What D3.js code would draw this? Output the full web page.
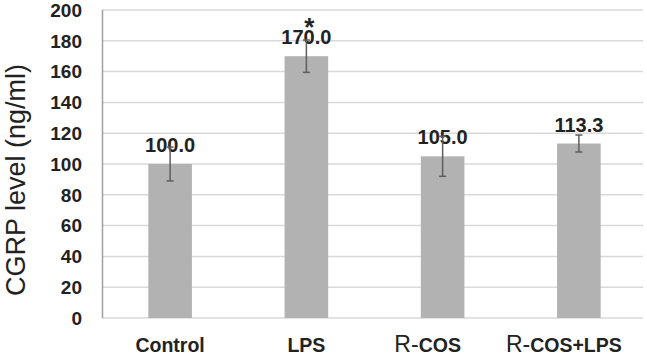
<!DOCTYPE html>
<html>
<head>
<meta charset="utf-8">
<script src="https://cdn.jsdelivr.net/npm/d3@7"></script>
<style>
  body { margin: 0; background: #fff; }
  svg { display: block; font-family: "Liberation Sans", Arial, sans-serif; }
</style>
</head>
<body>
<div id="chart"></div>
<script>
// Chart data
let groups = ["Control", "LPS", "R-COS", "R-COS+LPS"];
let means = [100.0, 170.0, 105.0, 113.3];
let errors = [11, 10.5, 13, 5.5];
let valueLabels = ["100.0", "170.0", "105.0", "113.3"];
let marks = ["", "*", "", ""];
let yTicks = [0, 20, 40, 60, 80, 100, 120, 140, 160, 180, 200];

let w = 647;
let h = 363;
let plotLeft = 102, plotRight = 647, plotTop = 10, plotBottom = 318;

let svg = d3.select("#chart").append("svg")
    .attr("width", w)
    .attr("height", h);

let xScale = d3.scaleBand()
    .domain(groups)
    .range([plotLeft, plotRight])
    .paddingInner(0.68)
    .paddingOuter(0.34);

let yScale = d3.scaleLinear()
    .domain([0, 200])
    .range([plotBottom, plotTop]);

// gridlines
svg.append("g").selectAll("line")
    .data(yTicks)
    .enter()
    .append("line")
    .attr("x1", plotLeft)
    .attr("x2", 643)
    .attr("y1", d => yScale(d))
    .attr("y2", d => yScale(d))
    .attr("stroke", "#d9d9d9")
    .attr("stroke-width", 1.5);

// y axis line
svg.append("line")
    .attr("x1", plotLeft + 0.5)
    .attr("x2", plotLeft + 0.5)
    .attr("y1", yScale(200))
    .attr("y2", yScale(0))
    .attr("stroke", "#a0a0a0")
    .attr("stroke-width", 1.5);

// y tick labels
svg.append("g").selectAll("text")
    .data(yTicks)
    .enter()
    .append("text")
    .attr("x", 82)
    .attr("y", d => yScale(d))
    .attr("dy", "0.36em")
    .attr("text-anchor", "end")
    .attr("font-size", "19px")
    .attr("font-weight", "bold")
    .attr("fill", "#222")
    .text(d => d);

// bars
svg.append("g").selectAll("rect")
    .data(groups)
    .enter()
    .append("rect")
    .attr("x", d => xScale(d))
    .attr("y", (d, i) => yScale(means[i]))
    .attr("width", xScale.bandwidth())
    .attr("height", (d, i) => yScale(0) - yScale(means[i]))
    .attr("fill", "#b2b2b2");

// value labels (drawn before error bars, error lines go over text)
svg.append("g").selectAll("text")
    .data(groups)
    .enter()
    .append("text")
    .attr("x", d => xScale(d) + xScale.bandwidth() / 2)
    .attr("y", (d, i) => yScale(means[i]) - 12)
    .attr("text-anchor", "middle")
    .attr("font-size", "20px")
    .attr("font-weight", "bold")
    .attr("fill", "#222")
    .text((d, i) => valueLabels[i]);

// significance marks
svg.append("g").selectAll("text")
    .data(groups)
    .enter()
    .append("text")
    .attr("x", d => xScale(d) + xScale.bandwidth() / 2 + 3)
    .attr("y", (d, i) => yScale(means[i]) - 20)
    .attr("text-anchor", "middle")
    .attr("font-size", "26px")
    .attr("font-weight", "bold")
    .attr("fill", "#222")
    .text((d, i) => marks[i]);

// error bars
let err = svg.append("g").attr("stroke", "#5e5e5e").attr("stroke-width", 1.5);
groups.forEach((g, i) => {
    let cx = xScale(g) + xScale.bandwidth() / 2;
    let lo = yScale(means[i] - errors[i]);
    let hi = yScale(means[i] + errors[i]);
    err.append("line").attr("x1", cx).attr("x2", cx).attr("y1", lo).attr("y2", hi);
    err.append("line").attr("x1", cx - 3.5).attr("x2", cx + 3.5).attr("y1", lo).attr("y2", lo);
    err.append("line").attr("x1", cx - 3.5).attr("x2", cx + 3.5).attr("y1", hi).attr("y2", hi);
});

// x labels; the "R-" prefix is set in a larger regular face
let xl = svg.append("g").selectAll("text")
    .data(groups)
    .enter()
    .append("text")
    .attr("x", d => xScale(d) + xScale.bandwidth() / 2 + (d.startsWith("R-") ? -15 : 0))
    .attr("y", 352)
    .attr("text-anchor", "middle")
    .attr("fill", "#222");
xl.each(function(d) {
    let t = d3.select(this);
    if (d.startsWith("R-")) {
        t.append("tspan").attr("font-size", "23px").text("R-");
        t.append("tspan").attr("font-size", "19.5px").attr("font-weight", "bold").text(d.slice(2));
    } else {
        t.append("tspan").attr("font-size", "19.5px").attr("font-weight", "bold").text(d);
    }
});

// y axis title
svg.append("text")
    .attr("transform", "translate(25," + 180 + ") rotate(-90)")
    .attr("text-anchor", "middle")
    .attr("font-size", "27px")
    .attr("fill", "#222")
    .text("CGRP level (ng/ml)");
</script>
</body>
</html>
